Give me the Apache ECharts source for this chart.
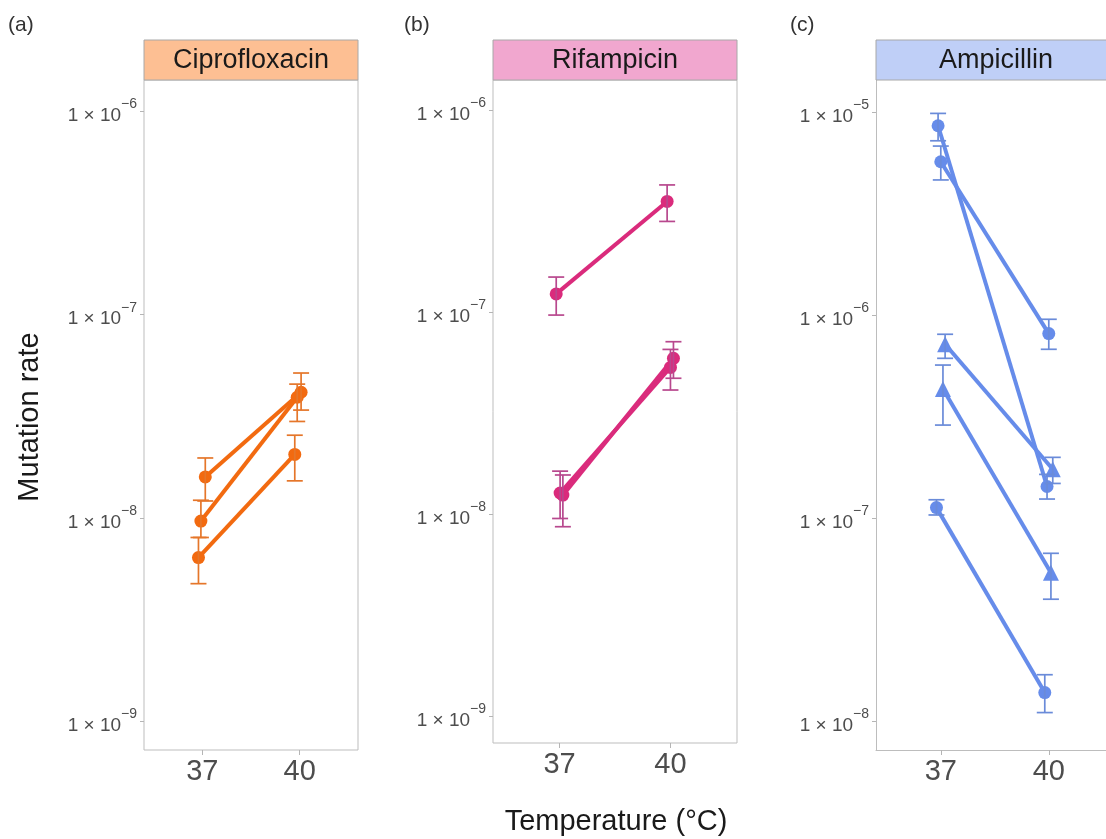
<!DOCTYPE html>
<html><head><meta charset="utf-8">
<script src="https://cdn.jsdelivr.net/npm/echarts@6/dist/echarts.min.js"></script>
<style>html,body{margin:0;padding:0;background:#fff}#c{width:1106px;height:839px}</style>
</head><body><div id="c"></div>
<script>
// ---------- data ----------
const tempLabels = ['37', '40'];
const drugNames = ['Ciprofloxacin', 'Rifampicin', 'Ampicillin'];
const panelTags = ['(a)', '(b)', '(c)'];

// Ciprofloxacin: one row per strain, columns = [37 °C, 40 °C]
const ciproMean  = [[1.59e-8, 4.15e-8], [9.64e-9, 3.92e-8], [6.37e-9, 2.05e-8]];
const ciproLow   = [[1.21e-8, 3.39e-8], [8.0e-9, 2.98e-8],  [4.74e-9, 1.52e-8]];
const ciproHigh  = [[1.97e-8, 5.16e-8], [1.22e-8, 4.55e-8], [8.0e-9, 2.55e-8]];
const ciproDodge = [[0.03, 0.015], [-0.015, -0.025], [-0.04, -0.05]];
const ciproShape = ['circle', 'circle', 'circle'];

// Rifampicin
const rifMean  = [[1.23e-7, 3.53e-7], [1.27e-8, 5.32e-8], [1.24e-8, 5.9e-8]];
const rifLow   = [[9.66e-8, 2.81e-7], [9.5e-9, 4.11e-8],  [8.65e-9, 4.70e-8]];
const rifHigh  = [[1.49e-7, 4.26e-7], [1.63e-8, 6.53e-8], [1.56e-8, 7.13e-8]];
const rifDodge = [[-0.03, -0.03], [0.005, 0.0], [0.03, 0.027]];
const rifShape = ['circle', 'circle', 'circle'];

// Ampicillin
const ampMean  = [[8.56e-6, 1.43e-7], [5.69e-6, 8.1e-7], [7.18e-7, 1.74e-7], [4.32e-7, 5.38e-8], [1.125e-7, 1.38e-8]];
const ampLow   = [[7.22e-6, 1.24e-7], [4.63e-6, 6.78e-7], [6.12e-7, 1.48e-7], [2.87e-7, 3.98e-8], [1.035e-7, 1.10e-8]];
const ampHigh  = [[9.85e-6, 1.64e-7], [6.80e-6, 9.53e-7], [8.04e-7, 1.99e-7], [5.67e-7, 6.70e-8], [1.23e-7, 1.69e-8]];
const ampDodge = [[-0.025, -0.016], [0.0, 0.0], [0.04, 0.037], [0.02, 0.02], [-0.04, -0.037]];
const ampShape = ['circle', 'circle', 'triangle', 'triangle', 'circle'];

// ---------- layout / style ----------
const FONT = 'Liberation Sans, Arial, sans-serif';
const panels = [
  { left: 144, width: 214, height: 670, xMax: 2.6, yMin: -9.143, yMax: -5.845, strip: '#FDBF93', box: true,
    line: '#F26A10', err: '#E5762A', mean: ciproMean, low: ciproLow, high: ciproHigh, dodge: ciproDodge, shape: ciproShape, tagX: 8 },
  { left: 493, width: 244, height: 663, xMax: 2.6, yMin: -9.134, yMax: -5.851, strip: '#F1A7CF', box: true,
    line: '#DA2B7C', err: '#B8488E', mean: rifMean, low: rifLow, high: rifHigh, dodge: rifDodge, shape: rifShape, tagX: 404 },
  { left: 876, width: 231, height: 670, xMax: 2.53, yMin: -8.143, yMax: -4.842, strip: '#BFCFF7', box: false,
    line: '#668CEA', err: '#6A8BD9', mean: ampMean, low: ampLow, high: ampHigh, dodge: ampDodge, shape: ampShape, tagX: 790 }
];
const TOP = 80;
const BORDER = '#BDBDBD';

const grids = [], xAxes = [], yAxes = [], series = [], graphics = [];

panels.forEach((p, i) => {
  grids.push({ left: p.left, top: TOP, width: p.width, height: p.height, show: p.box,
    borderColor: BORDER, borderWidth: 1, backgroundColor: '#fff', containLabel: false });
  xAxes.push({ gridIndex: i, type: 'value', min: 0.4, max: p.xMax,
    axisLine: { show: !p.box, onZero: false, lineStyle: { color: BORDER, width: 1 } }, splitLine: { show: false },
    axisTick: { show: true, length: 5, lineStyle: { color: '#B5B5B5' }, customValues: [1, 2] },
    axisLabel: { customValues: [1, 2], formatter: v => tempLabels[Math.round(v) - 1],
      fontSize: 29, color: '#4D4D4D', fontFamily: FONT, margin: 7 } });
  const decades = [];
  for (let e = Math.ceil(p.yMin); e <= Math.floor(p.yMax); e++) decades.push(Math.pow(10, e));
  yAxes.push({ gridIndex: i, type: 'log', logBase: 10, min: Math.pow(10, p.yMin), max: Math.pow(10, p.yMax),
    axisLine: { show: !p.box, onZero: false, lineStyle: { color: BORDER, width: 1 } }, splitLine: { show: false },
    axisTick: { show: true, length: 4, lineStyle: { color: '#B5B5B5' }, customValues: decades },
    axisLabel: { customValues: decades, margin: 7,
      formatter: v => { const e = Math.round(Math.log10(v)); return '{b|1 × 10}{s|' + (e < 0 ? '−' : '') + Math.abs(e) + '}'; },
      rich: {
        b: { fontSize: 19, color: '#4D4D4D', fontFamily: FONT, verticalAlign: 'bottom', lineHeight: 28 },
        s: { fontSize: 14, color: '#4D4D4D', fontFamily: FONT, verticalAlign: 'top', lineHeight: 28 }
      } } });

  p.mean.forEach((row, k) => {
    const pts = row.map((v, t) => [t + 1 + p.dodge[k][t], v]);
    series.push({ type: 'line', xAxisIndex: i, yAxisIndex: i, data: pts,
      symbol: p.shape[k], symbolSize: p.shape[k] === 'triangle' ? 16 : 13,
      lineStyle: { color: p.line, width: 4 }, itemStyle: { color: p.line },
      z: 3, animation: false, silent: true });
    const eb = row.map((v, t) => [t + 1 + p.dodge[k][t], p.low[k][t], p.high[k][t]]);
    series.push({ type: 'custom', xAxisIndex: i, yAxisIndex: i, data: eb,
      encode: { x: 0, y: [1, 2] }, z: 4, animation: false, silent: true,
      renderItem: (params, api) => {
        const x = api.value(0);
        const a = api.coord([x, api.value(1)]);
        const b = api.coord([x, api.value(2)]);
        const hw = 8;
        const st = { stroke: p.err, lineWidth: 1.7 };
        return { type: 'group', children: [
          { type: 'line', shape: { x1: a[0], y1: a[1], x2: b[0], y2: b[1] }, style: st },
          { type: 'line', shape: { x1: a[0] - hw, y1: a[1], x2: a[0] + hw, y2: a[1] }, style: st },
          { type: 'line', shape: { x1: b[0] - hw, y1: b[1], x2: b[0] + hw, y2: b[1] }, style: st }
        ] };
      } });
  });

  // strip header
  graphics.push({ type: 'rect', shape: { x: p.left, y: 40, width: p.width + (p.box ? 0 : 20), height: 40 },
    style: { fill: p.strip, stroke: '#A8A8A8', lineWidth: 1 }, z: 10 });
  graphics.push({ type: 'text', x: p.left + (p.box ? p.width : 240) / 2, y: 61,
    style: { text: drugNames[i], font: '27px ' + FONT, fill: '#1A1A1A', align: 'center', verticalAlign: 'middle' }, z: 11 });
  graphics.push({ type: 'text', x: p.tagX, y: 25,
    style: { text: panelTags[i], font: '21px ' + FONT, fill: '#333', align: 'left', verticalAlign: 'middle' }, z: 11 });
});

graphics.push({ type: 'text', x: 30, y: 417, rotation: Math.PI / 2,
  style: { text: 'Mutation rate', font: '29px ' + FONT, fill: '#1A1A1A', align: 'center', verticalAlign: 'middle' } });
graphics.push({ type: 'text', x: 616, y: 822,
  style: { text: 'Temperature (°C)', font: '29px ' + FONT, fill: '#1A1A1A', align: 'center', verticalAlign: 'middle' } });

const chart = echarts.init(document.getElementById('c'), null, { renderer: 'canvas' });
chart.setOption({ animation: false, backgroundColor: '#fff', grid: grids, xAxis: xAxes, yAxis: yAxes, series, graphic: graphics });
</script>
</body></html>
